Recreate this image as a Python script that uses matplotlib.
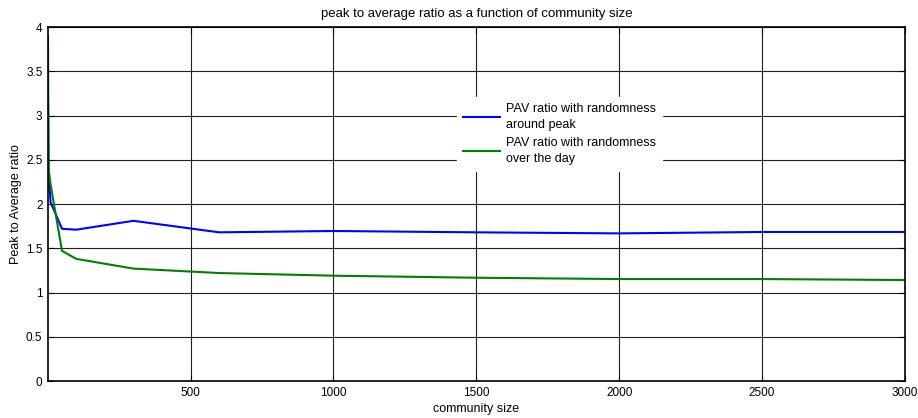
import matplotlib
matplotlib.use("Agg")
import matplotlib.pyplot as plt

community_size = [1, 3, 10, 50, 100, 300, 600, 1000, 1500, 2000, 2500, 3000]
pav_peak = [3.12, 2.35, 2.02, 1.72, 1.71, 1.81, 1.68, 1.695, 1.68, 1.668, 1.684, 1.684]
pav_day = [3.90, 2.40, 2.22, 1.47, 1.38, 1.27, 1.22, 1.19, 1.167, 1.152, 1.152, 1.141]
x_ticks = [500, 1000, 1500, 2000, 2500, 3000]
y_ticks = [0, 0.5, 1, 1.5, 2, 2.5, 3, 3.5, 4]

plt.rcParams['font.family'] = ['Liberation Sans', 'DejaVu Sans']
fig = plt.figure(figsize=(9.18, 4.18), dpi=100)
ax = fig.add_axes([0.0523, 0.0885, 0.9335, 0.8469])

ax.plot(community_size, pav_peak, color='#0000ff', lw=1.5, label='PAV ratio with randomness\naround peak')
ax.plot(community_size, pav_day, color='#008000', lw=1.5, label='PAV ratio with randomness\nover the day')

ax.set_xlim(1, 3000)
ax.set_ylim(0, 4)
ax.set_xticks(x_ticks)
ax.set_yticks(y_ticks)
ax.set_yticklabels(['0', '0.5', '1', '1.5', '2', '2.5', '3', '3.5', '4'])
ax.grid(True, color='#202020', lw=0.8, ls='-')
ax.set_axisbelow(True)
ax.tick_params(direction='in', top=True, right=True, labelsize=8.5, length=4, pad=4)
for s in ax.spines.values():
    s.set_linewidth(1.2)

ax.set_title('peak to average ratio as a function of community size', fontsize=9.5, pad=7)
ax.set_xlabel('community size', fontsize=9, labelpad=3)
ax.set_ylabel('Peak to Average ratio', fontsize=9, labelpad=3)

leg = ax.legend(loc='upper left', bbox_to_anchor=(0.47, 0.82), fontsize=9, frameon=True,
                fancybox=False, edgecolor='white', framealpha=1.0, handlelength=2.9,
                handletextpad=0.5, borderpad=0.5, labelspacing=0.45)
for t in leg.get_texts():
    t.set_linespacing(1.45)

fig.savefig('out.png', dpi=100)
